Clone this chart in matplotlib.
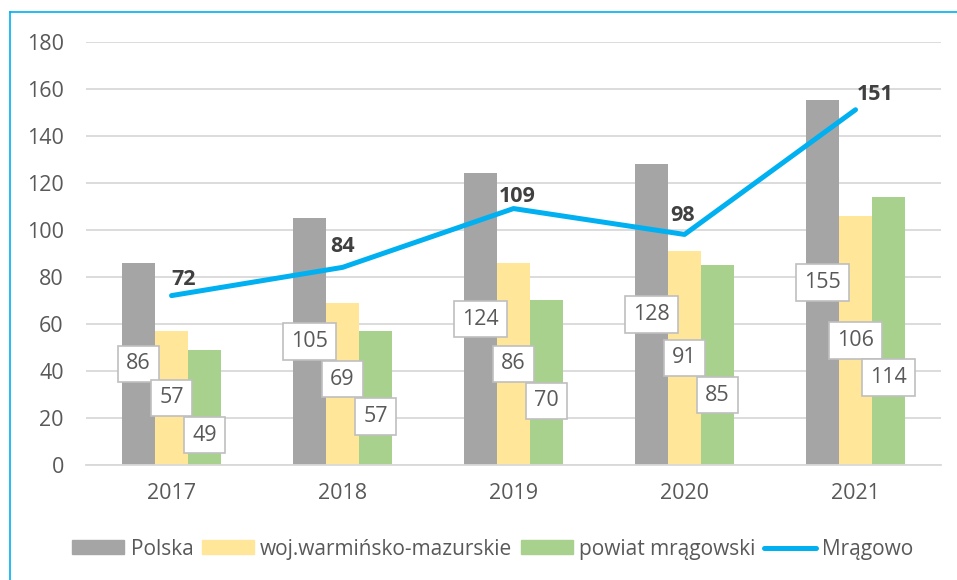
import numpy as np
import matplotlib.pyplot as plt
from matplotlib.lines import Line2D
from matplotlib.patches import Patch

plt.rcParams['font.family'] = ['Open Sans', 'DejaVu Sans']

years = ["2017", "2018", "2019", "2020", "2021"]
polska = [86, 105, 124, 128, 155]
woj = [57, 69, 86, 91, 106]
powiat = [49, 57, 70, 85, 114]
mragowo = [72, 84, 109, 98, 151]

C_PL = "#A5A5A5"
C_WOJ = "#FFE699"
C_POW = "#A9D18E"
C_LINE = "#00B0F0"
C_TXT = "#595959"
C_GRID = "#D9D9D9"
FS = 15.5

fig = plt.figure(figsize=(9.57, 5.80), dpi=100)
ax = fig.add_axes([0.0899, 0.1983, 0.8934, 0.7301])

x = np.arange(len(years))
w = 0.193

ax.bar(x - w, polska, w, color=C_PL, zorder=2)
ax.bar(x, woj, w, color=C_WOJ, zorder=2)
ax.bar(x + w, powiat, w, color=C_POW, zorder=2)
ax.plot(x, mragowo, color=C_LINE, lw=3.6, solid_capstyle='round',
        solid_joinstyle='round', zorder=3)

# boxed value labels, centred in bars, nudged apart where they collide
box = dict(boxstyle='square,pad=0.36', fc='white', ec='#BFBFBF', lw=1.2)
for i in range(len(years)):
    y_pl = polska[i] / 2
    y_woj = woj[i] / 2 + (2 if i == 1 else 0)
    y_pow = min(powiat[i] / 2, y_woj - 15.8)
    for xx, yy, v in [(x[i] - w, y_pl, polska[i]), (x[i], y_woj, woj[i]),
                      (x[i] + w, y_pow, powiat[i])]:
        ax.text(xx, yy, str(v), ha='center', va='center', fontsize=FS,
                color=C_TXT, bbox=box, zorder=4)

# bold labels for the line
line_off = [(12, 16), (0, 21), (4, 12), (-2, 19), (20, 15)]
for i, v in enumerate(mragowo):
    ax.annotate(str(v), (x[i], v), xytext=line_off[i], textcoords='offset pixels',
                ha='center', va='center', fontsize=FS, fontweight='bold',
                color='#404040', zorder=5)

ax.set_xlim(-0.5, len(years) - 0.5)
ax.set_ylim(0, 180)
ax.set_yticks(range(0, 181, 20))
ax.set_xticks(x)
ax.set_xticklabels(years)
ax.tick_params(axis='both', length=0, labelsize=FS, labelcolor=C_TXT)
ax.tick_params(axis='y', pad=16)
ax.tick_params(axis='x', pad=13)
ax.grid(axis='y', color=C_GRID, lw=1.3, zorder=0)
ax.set_axisbelow(True)
for s in ['top', 'right', 'left']:
    ax.spines[s].set_visible(False)
ax.spines['bottom'].set_color(C_GRID)
ax.spines['bottom'].set_linewidth(1.3)

handles = [Patch(color=C_PL, label="Polska"),
           Patch(color=C_WOJ, label="woj.warmińsko-mazurskie"),
           Patch(color=C_POW, label="powiat mrągowski"),
           Line2D([], [], color=C_LINE, lw=3.6, solid_capstyle='round', label="Mrągowo")]
leg = fig.legend(handles=handles, loc='center', bbox_to_anchor=(0.515, 0.053), ncol=4,
                 frameon=False, fontsize=15, handlelength=2.5, handleheight=0.65,
                 handletextpad=0.3, columnspacing=0.4, labelcolor=C_TXT)

# light blue frame on the left and top
fig.add_artist(Line2D([10 / 957, 10 / 957], [0, 1 - 12 / 580], color=C_LINE, lw=1.2,
                      transform=fig.transFigure))
fig.add_artist(Line2D([10 / 957, 1], [1 - 12 / 580, 1 - 12 / 580], color=C_LINE, lw=1.2,
                      transform=fig.transFigure))

plt.savefig("out.png", dpi=100)
